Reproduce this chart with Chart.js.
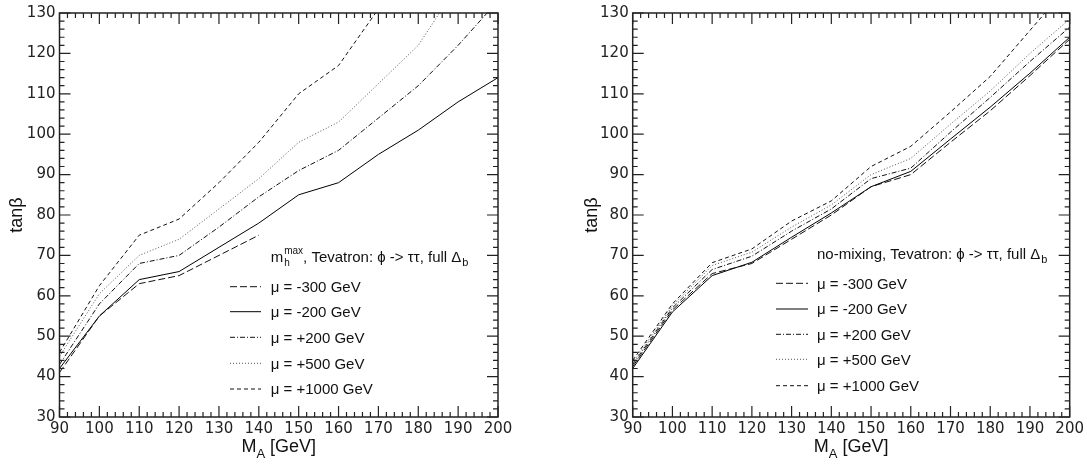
<!DOCTYPE html>
<html><head><meta charset="utf-8">
<script src="https://cdn.jsdelivr.net/npm/chart.js@4.4.1/dist/chart.umd.min.js"></script>
<style>
html,body{margin:0;padding:0;background:#fff;overflow:hidden}
#wrapL{position:absolute;left:0;top:0;width:545px;height:465px}
#wrapR{position:absolute;left:545px;top:0;width:542px;height:465px}
</style></head><body>
<div id="wrapL"><canvas id="cL" width="545" height="465"></canvas></div>
<div id="wrapR"><canvas id="cR" width="542" height="465"></canvas></div>
<script>
// ---- data ----
const massA = [90,100,110,120,130,140,150,160,170,180,190,200];
const seriesLabels = ['μ = -300 GeV','μ = -200 GeV','μ = +200 GeV','μ = +500 GeV','μ = +1000 GeV'];
const xTicks = [90,100,110,120,130,140,150,160,170,180,190,200];
const yTicks = [30,40,50,60,70,80,90,100,110,120,130];

// m_h^max scenario
const mhmaxMuM300  = [41,55,63,65,70,75,null,null,null,null,null,null];
const mhmaxMuM200  = [42,55,64,66,72,78,85,88,95,101,108,114];
const mhmaxMuP200  = [43,58,68,70,77,84.5,91,96,104,112,122,133];
const mhmaxMuP500  = [45,60.5,70,74,81.5,89,98,103,112.5,122,137,null];
const mhmaxMuP1000 = [46,62.5,75,79,88,98,110,117,131,null,null,null];

// no-mixing scenario
const nomixMuM300  = [42.5,56.5,65.5,68,74,80,87,90,98,105.8,114.5,123.5];
const nomixMuM200  = [42,56,65,68.3,74.5,80.5,87,90.8,98.8,106.7,115.1,124];
const nomixMuP200  = [43,57,66.5,69.8,76,81.5,89,91.6,100.5,109.1,118,126.5];
const nomixMuP500  = [43.5,57.5,67.5,70.8,77,82.5,90,94,102.5,110.7,120,128.5];
const nomixMuP1000 = [44,58,68.2,71.6,78.5,83.5,92,97,105.5,114.3,125.7,137];

// ---- styles ----
const dashes = [[7,3],[],[5,2,1,2],[1,2],[4,3]];
const colors = ['#111','#000','#111','#555','#111'];
const TICKFONT = 'DejaVu Sans';
const FONT = 'Liberation Sans';

function makeDatasets(arrs){
  return arrs.map((a,i)=>({
    label: seriesLabels[i],
    data: massA.map((m,j)=>({x:m,y:a[j]})).filter(p=>p.y!==null),
    borderColor: colors[i], borderWidth: 1, borderDash: dashes[i],
    pointRadius: 0, fill:false, tension:0
  }));
}

const framePlugin = {
  id:'frame',
  afterDatasetsDraw(chart){
    const ctx = chart.ctx, {left,right,top,bottom} = chart.chartArea;
    const xs = chart.scales.x, ys = chart.scales.y;
    ctx.save();
    ctx.strokeStyle = '#222'; ctx.lineWidth = 1.2; ctx.setLineDash([]);
    ctx.beginPath();
    for(let v=90; v<=200; v+=2){
      const p = xs.getPixelForValue(v), L = (v%10===0)?11:5;
      ctx.moveTo(p,bottom); ctx.lineTo(p,bottom-L);
      ctx.moveTo(p,top); ctx.lineTo(p,top+L);
    }
    for(let v=30; v<=130; v+=2){
      const p = ys.getPixelForValue(v), L = (v%10===0)?11:5;
      ctx.moveTo(left,p); ctx.lineTo(left+L,p);
      ctx.moveTo(right,p); ctx.lineTo(right-L,p);
    }
    ctx.stroke();
    ctx.lineWidth = 1.5;
    ctx.strokeRect(left,top,right-left,bottom-top);
    ctx.restore();
  }
};

const textPlugin = {
  id:'texts',
  afterDraw(chart, args, o){
    const ctx = chart.ctx, {left,right,top,bottom} = chart.chartArea;
    const f = (s)=> s+'px "'+FONT+'"';
    ctx.save();
    ctx.fillStyle = '#111';
    ctx.textBaseline = 'alphabetic';
    // x-axis title M_A [GeV]
    const cx = (left+right)/2;
    ctx.font = f(18);
    const wM = ctx.measureText('M').width, wR = ctx.measureText(' [GeV]').width;
    ctx.font = f(13);
    const wA = ctx.measureText('A').width;
    let x0 = cx - (wM+wA+wR)/2;
    ctx.textAlign='left';
    ctx.font = f(18); ctx.fillText('M', x0, 451.5);
    ctx.font = f(13); ctx.fillText('A', x0+wM, 458);
    ctx.font = f(18); ctx.fillText(' [GeV]', x0+wM+wA, 451.5);
    // y-axis title
    ctx.save();
    ctx.translate(o.ytx, (top+bottom)/2);
    ctx.rotate(-Math.PI/2);
    ctx.textAlign='center';
    ctx.font = f(18);
    ctx.fillText('tanβ', 0, 0);
    ctx.restore();
    // legend title
    let x = o.tx, by = o.ty;
    ctx.textAlign='left';
    ctx.font = f(15);
    if(o.mh){
      ctx.fillText('m', x, by); x += ctx.measureText('m').width + 1;
      ctx.font = f(10);
      ctx.fillText('max', x, by-8); ctx.fillText('h', x, by+4);
      x += ctx.measureText('max').width;
      ctx.font = f(15);
    }
    ctx.fillText(o.ttext, x, by); x += ctx.measureText(o.ttext).width + 1;
    ctx.font = f(11);
    ctx.fillText('b', x, by+4);
    // legend rows
    ctx.font = f(15);
    chart.data.datasets.forEach((ds,i)=>{
      const y = o.rows[i];
      ctx.strokeStyle = ds.borderColor; ctx.lineWidth = 1;
      ctx.setLineDash(ds.borderDash);
      ctx.beginPath(); ctx.moveTo(o.lx1, y); ctx.lineTo(o.lx2, y); ctx.stroke();
      ctx.setLineDash([]);
      ctx.fillText(ds.label, o.tx, y+5.4);
    });
    ctx.restore();
  }
};

function makeChart(id, arrs, yAxisW, padRight, texts){
  return new Chart(document.getElementById(id), {
    type:'line',
    data:{ datasets: makeDatasets(arrs) },
    plugins:[framePlugin, textPlugin],
    options:{
      responsive:false, animation:false, devicePixelRatio:1,
      layout:{ padding:{ left:0, top:5.5, right:padRight, bottom:0 } },
      plugins:{ legend:{display:false}, tooltip:{enabled:false}, texts: texts },
      scales:{
        x:{ type:'linear', min:90, max:200,
            afterBuildTicks: s => { s.ticks = xTicks.map(v=>({value:v})); },
            afterFit: s => { s.height = 48; },
            grid:{display:false, drawTicks:false}, border:{display:false},
            ticks:{ font:{family:TICKFONT, size:15}, color:'#222', padding:3, maxRotation:0, autoSkip:false } },
        y:{ type:'linear', min:30, max:130,
            afterBuildTicks: s => { s.ticks = yTicks.map(v=>({value:v})); },
            afterFit: s => { s.width = yAxisW; },
            grid:{display:false, drawTicks:false}, border:{display:false},
            ticks:{ font:{family:TICKFONT, size:15}, color:'#222', padding:4, autoSkip:false } }
      }
    }
  });
}

makeChart('cL', [mhmaxMuM300,mhmaxMuM200,mhmaxMuP200,mhmaxMuP500,mhmaxMuP1000], 59.5, 47, {
  ytx: 22, mh:true, tx: 270.7, ty: 262.3,
  ttext: ', Tevatron: ϕ -> ττ, full Δ',
  lx1: 230, lx2: 261, rows:[286.7,311.7,337.3,363.3,389]
});
makeChart('cR', [nomixMuM300,nomixMuM200,nomixMuP200,nomixMuP500,nomixMuP1000], 87.7, 16, {
  ytx: 52, mh:false, tx: 272, ty: 259,
  ttext: 'no-mixing, Tevatron: ϕ -> ττ, full Δ',
  lx1: 231, lx2: 263, rows:[283.3,309,334.3,359.3,385.7]
});
</script>
</body></html>
